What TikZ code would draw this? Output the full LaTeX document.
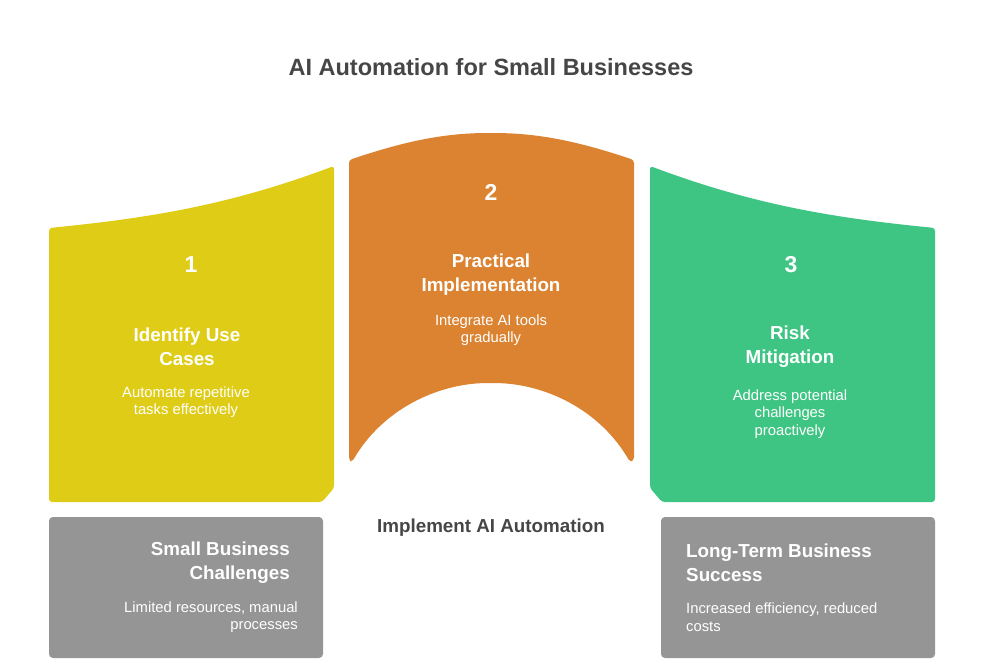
\documentclass[tikz,border=0pt]{standalone}
\usepackage{fontspec}
\setmainfont{Liberation Sans}
\definecolor{cyel}{RGB}{223,204,22}
\definecolor{corg}{RGB}{220,131,49}
\definecolor{cgrn}{RGB}{62,197,131}
\definecolor{cgry}{RGB}{149,149,149}
\definecolor{ctxt}{RGB}{70,70,70}
\tikzset{
  numtxt/.style={text=white,font=\bfseries\fontsize{23}{27}\selectfont,inner sep=0pt},
  headtxt/.style={text=white,font=\bfseries\fontsize{18.8}{24}\selectfont,align=center,inner sep=0pt},
  desctxt/.style={text=white,font=\fontsize{14.8}{17.5}\selectfont,align=center,inner sep=0pt},
  shp/.style={rounded corners=3pt}
}
\begin{document}
\begin{tikzpicture}[x=1pt,y=-1pt]
\useasboundingbox (0,0) rectangle (984,667);
% title
\node[text=ctxt,font=\bfseries\fontsize{23.5}{27}\selectfont,inner sep=0pt] (title) at (491,67) {AI Automation for Small Businesses};
% yellow
\fill[cyel,shp] (49,502) -- (49,228) .. controls (150,218) and (230,205) .. (334,166) -- (334,488) -- (322,502) -- cycle;
% orange
\fill[corg,shp] (349,460) -- (349,160) .. controls (400,143) and (440,133) .. (491,133) .. controls (542,133) and (583,143) .. (634,160) -- (634,460) -- (630,462) .. controls (600,410) and (545,383) .. (491,383) .. controls (437,383) and (382,410) .. (352,462) -- cycle;
% green
\fill[cgrn,shp] (935,502) -- (935,228) .. controls (834,218) and (754,205) .. (650,166) -- (650,488) -- (662,502) -- cycle;
% gray boxes
\fill[cgry,rounded corners=4pt] (49,517) rectangle (323,658);
\fill[cgry,rounded corners=4pt] (661,517) rectangle (935,658);
% texts stage 1
\node[numtxt] (n1) at (191,265) {1};
\node[headtxt] (h1) at (187,347) {Identify Use\\Cases};
\node[desctxt] (d1) at (186,402) {Automate repetitive\\tasks effectively};
% stage 2
\node[numtxt] (n2) at (491,192) {2};
\node[headtxt] (h2) at (491,275) {Practical\\Implementation};
\node[desctxt] (d2) at (491,330) {Integrate AI tools\\gradually};
% stage 3
\node[numtxt] (n3) at (791,265) {3};
\node[headtxt] (h3) at (790,347) {Risk\\Mitigation};
\node[desctxt] (d3) at (790,414) {Address potential\\challenges\\proactively};
% center label
\node[text=ctxt,font=\bfseries\fontsize{18.8}{22}\selectfont,inner sep=0pt] (mid) at (491,528) {Implement AI Automation};
% gray left
\node[headtxt,align=right,anchor=east] (gl) at (290,563) {Small Business\\Challenges};
\node[desctxt,align=right,anchor=east] (gld) at (298,617) {Limited resources, manual\\processes};
% gray right
\node[headtxt,align=left,anchor=west] (gr) at (686,563) {Long-Term Business\\Success};
\node[desctxt,align=left,anchor=west] (grd) at (686,617) {Increased efficiency, reduced\\costs};
\end{tikzpicture}
\end{document}
